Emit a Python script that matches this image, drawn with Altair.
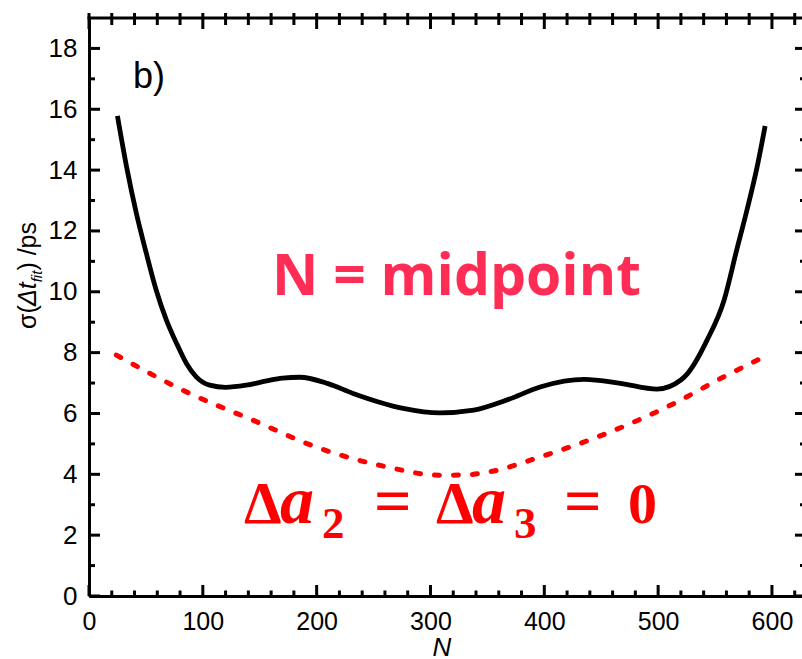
import altair as alt
import pandas as pd

# ---- data ----
N_fit = [25, 33, 41.6, 50.4, 59, 68, 77, 85.5, 94, 106, 120, 138, 156, 170, 185, 210, 232,
         276, 308, 338, 367, 397, 435, 467, 499, 520, 526, 543, 558, 569, 578, 587, 594]
sigma_fit = [15.78, 14.11, 12.58, 11.26, 10.06, 9.07, 8.30, 7.65, 7.21, 6.93, 6.86, 6.93, 7.07,
             7.16, 7.19, 6.98, 6.66, 6.17, 6.02, 6.11, 6.44, 6.88, 7.12, 6.99, 6.80, 7.10,
             7.32, 8.41, 9.73, 11.37, 12.68, 14.11, 15.45]
N_mid = [24, 85.5, 144, 203, 261, 308, 330, 353, 397, 455, 514, 558, 593]
sigma_mid = [7.92, 6.71, 5.78, 4.85, 4.25, 3.97, 3.98, 4.09, 4.58, 5.35, 6.33, 7.21, 7.86]

x_major = list(range(0, 601, 100))
x_minor = [v for v in range(20, 621, 20) if v % 100]
y_major = list(range(0, 19, 2))
y_minor = list(range(1, 19, 2))

W, H = 713, 578
xscale = alt.Scale(domain=[0, 626.4], nice=False, zero=False)
yscale = alt.Scale(domain=[0, 19], nice=False, zero=False)
one = pd.DataFrame({"_": [0]})

x_axis = alt.Axis(
    values=x_major, title=None, ticks=False, tickSize=0, grid=False,
    domainWidth=3, domainColor="black", labelFont="Liberation Sans",
    labelFontSize=25, labelColor="black", labelPadding=13, labelFlush=False,
    labelOverlap=False)
y_axis = alt.Axis(
    values=y_major, title=None, ticks=False, tickSize=0, grid=False,
    domainWidth=3, domainColor="black", labelFont="Liberation Sans",
    labelFontSize=26, labelColor="black", labelPadding=12, labelOverlap=False)

black = alt.Chart(pd.DataFrame({"N": N_fit, "s": sigma_fit})).mark_line(
    color="black", strokeWidth=4.8, interpolate="monotone"
).encode(
    x=alt.X("N:Q", scale=xscale, axis=x_axis),
    y=alt.Y("s:Q", scale=yscale, axis=y_axis),
)

red = alt.Chart(pd.DataFrame({"N": N_mid, "s": sigma_mid})).mark_line(
    color="#FF0000", strokeWidth=5, strokeDash=[5, 14], strokeCap="round",
    interpolate="monotone"
).encode(
    x=alt.X("N:Q", scale=xscale, axis=x_axis),
    y=alt.Y("s:Q", scale=yscale, axis=y_axis),
)


def xticks(vals, y1, y2):
    return alt.Chart(pd.DataFrame({"v": vals})).mark_rule(color="black", strokeWidth=3).encode(
        x=alt.X("v:Q", scale=xscale, axis=x_axis), y=alt.value(y1), y2=alt.value(y2))


def yticks(vals, x1, x2):
    return alt.Chart(pd.DataFrame({"v": vals})).mark_rule(color="black", strokeWidth=3).encode(
        y=alt.Y("v:Q", scale=yscale, axis=y_axis), x=alt.value(x1), x2=alt.value(x2))


ticks = [
    xticks(x_major, H, H - 11), xticks(x_minor, H, H - 5.5),
    xticks(x_major, -5, 11), xticks(x_minor, -5, 7),
    yticks(y_major, 0, 11), yticks(y_minor, 0, 6),
    yticks(y_major, W - 7, W + 4), yticks(y_minor, W - 2, W + 4),
]

top_frame = alt.Chart(one).mark_rule(color="black", strokeWidth=3).encode(
    x=alt.value(-1.5), x2=alt.value(W + 5), y=alt.value(0))


def txt(s, x, y, size, font, color="black", weight="normal", style="normal", angle=0,
        align="left"):
    return alt.Chart(one).mark_text(
        text=s, align=align, baseline="alphabetic", font=font, fontSize=size,
        fontWeight=weight, fontStyle=style, color=color, angle=angle
    ).encode(x=alt.value(x), y=alt.value(y))


serif = "Liberation Serif"
sans = "Liberation Sans"
red_c = "#FF0000"
texts = [
    txt("b)", 44, 70, 36, sans),
    txt("N = midpoint", 183, 277, 57, "Open Sans", color="#FF2D55", weight="bold"),
    # Δa2 = Δa3 = 0
    txt("Δ", 155, 505, 60, serif, red_c, "bold"),
    txt("a", 191, 505, 68, serif, red_c, "bold", "italic"),
    txt("2", 233, 520, 45, serif, red_c, "bold"),
    txt("=", 285, 505, 66, serif, red_c, "bold"),
    txt("Δ", 347, 505, 60, serif, red_c, "bold"),
    txt("a", 383, 505, 68, serif, red_c, "bold", "italic"),
    txt("3", 425, 520, 45, serif, red_c, "bold"),
    txt("=", 475, 505, 66, serif, red_c, "bold"),
    txt("0", 539, 505, 58, serif, red_c, "bold"),
    # x axis title
    txt("N", 353, 638, 26, sans, style="italic", align="center"),
    # y axis title  σ(Δt_fit) /ps
    txt("σ(", -53, 311, 25, sans, angle=270),
    txt("Δt", -53, 288, 25, sans, style="italic", angle=270),
    txt("fit", -47, 264.3, 15, sans, style="italic", angle=270),
    txt(") /ps", -53, 252.6, 25, sans, angle=270),
]

chart = alt.layer(black, red, *ticks, top_frame, *texts).properties(
    width=W, height=H,
    padding={"left": 89, "top": 18, "right": 0, "bottom": 63},
    autosize=alt.AutoSizeParams(type="none"),
    background="white",
).configure_view(stroke=None)

chart.save("out.html", embed_options={"renderer": "svg", "actions": False})
